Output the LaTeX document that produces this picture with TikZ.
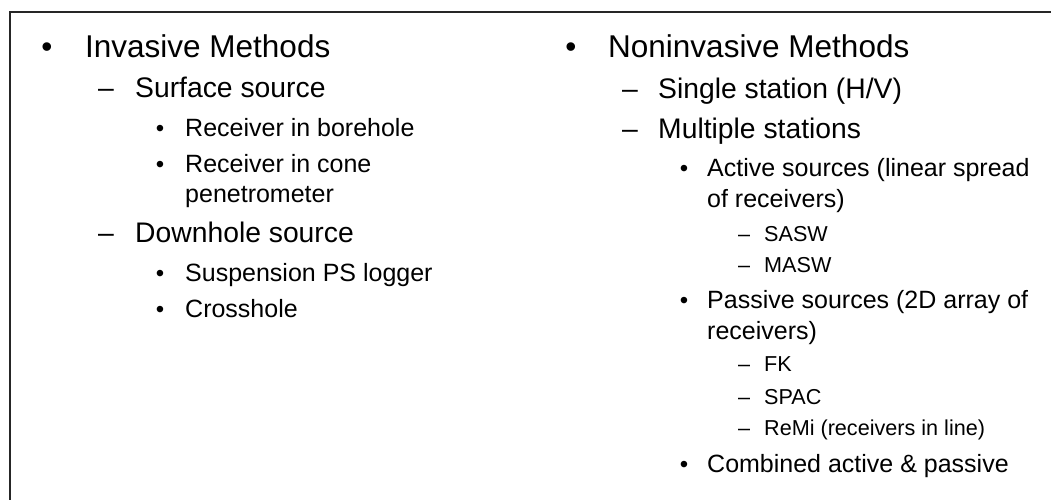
\documentclass[tikz,border=0pt]{standalone}
\usepackage{fontspec}
\setmainfont{Liberation Sans}
\usetikzlibrary{positioning}

\tikzset{
  item/.style={anchor=base west, inner sep=0pt, text=black},
  tick/.style={anchor=base, inner sep=0pt, text=black},
  lvlone/.style={item, font=\fontsize{31.5}{36}\selectfont},
  lvltwo/.style={item, font=\fontsize{28.3}{32}\selectfont},
  lvlthree/.style={item, font=\fontsize{25}{29}\selectfont},
  lvlfour/.style={item, font=\fontsize{21.6}{25}\selectfont},
  dotone/.style={tick, font=\fontsize{31.5}{36}\selectfont},
  dashtwo/.style={tick, font=\fontsize{28.3}{32}\selectfont},
  dotthree/.style={tick, font=\fontsize{24}{28}\selectfont},
  dashfour/.style={tick, font=\fontsize{21.6}{25}\selectfont},
  frame/.style={draw=black!85, line width=2.2pt}
}

\begin{document}
\begin{tikzpicture}[x=1pt,y=-1pt]
\useasboundingbox (0,0) rectangle (1051,500);

\coordinate (BotL) at (10,500);
\coordinate (Corner) at (10,12);
\coordinate (TopR) at (1051,12);
\draw[frame] (BotL) -- (Corner) -- (TopR);

% invasive column
\node[lvlone] (Inv) at (85,58) {Invasive Methods};
\node[lvltwo] (Surf) at (135,98) {Surface source};
\node[lvlthree] (Bore) at (185,136) {Receiver in borehole};
\node[lvlthree] (Cone) at (185,172) {Receiver in cone};
\node[lvlthree] (Pen) at (185,202) {penetrometer};
\node[lvltwo] (Down) at (135,242) {Downhole source};
\node[lvlthree] (Susp) at (185,281) {Suspension PS logger};
\node[lvlthree] (Cross) at (185,317) {Crosshole};

\node[dotone] (bInv) at (47,58) {•};
\node[dashtwo] (bSurf) at (106,98) {–};
\node[dotthree] (bBore) at (160,136) {•};
\node[dotthree] (bCone) at (160,172) {•};
\node[dashtwo] (bDown) at (106,242) {–};
\node[dotthree] (bSusp) at (160,281) {•};
\node[dotthree] (bCross) at (160,317) {•};

% noninvasive column
\node[lvlone] (NonInv) at (608,58) {Noninvasive Methods};
\node[lvltwo] (Single) at (658,99) {Single station (H/V)};
\node[lvltwo] (Multi) at (658,138) {Multiple stations};
\node[lvlthree] (Active) at (707,176) {Active sources (linear spread};
\node[lvlthree] (Active2) at (707,207) {of receivers)};
\node[lvlfour] (SASW) at (764,241) {SASW};
\node[lvlfour] (MASW) at (764,272) {MASW};
\node[lvlthree] (Passive) at (707,308) {Passive sources (2D array of};
\node[lvlthree] (Passive2) at (707,339) {receivers)};
\node[lvlfour] (FK) at (764,371) {FK};
\node[lvlfour] (SPAC) at (764,404) {SPAC};
\node[lvlfour] (ReMi) at (764,435) {ReMi (receivers in line)};
\node[lvlthree] (Comb) at (707,472) {Combined active \& passive};

\node[dotone] (bNonInv) at (571,58) {•};
\node[dashtwo] (bSingle) at (630,99) {–};
\node[dashtwo] (bMulti) at (630,138) {–};
\node[dotthree] (bActive) at (684,176) {•};
\node[dashfour] (bSASW) at (744,241) {–};
\node[dashfour] (bMASW) at (744,272) {–};
\node[dotthree] (bPassive) at (684,308) {•};
\node[dashfour] (bFK) at (744,371) {–};
\node[dashfour] (bSPAC) at (744,404) {–};
\node[dashfour] (bReMi) at (744,435) {–};
\node[dotthree] (bComb) at (684,472) {•};

\end{tikzpicture}
\end{document}
